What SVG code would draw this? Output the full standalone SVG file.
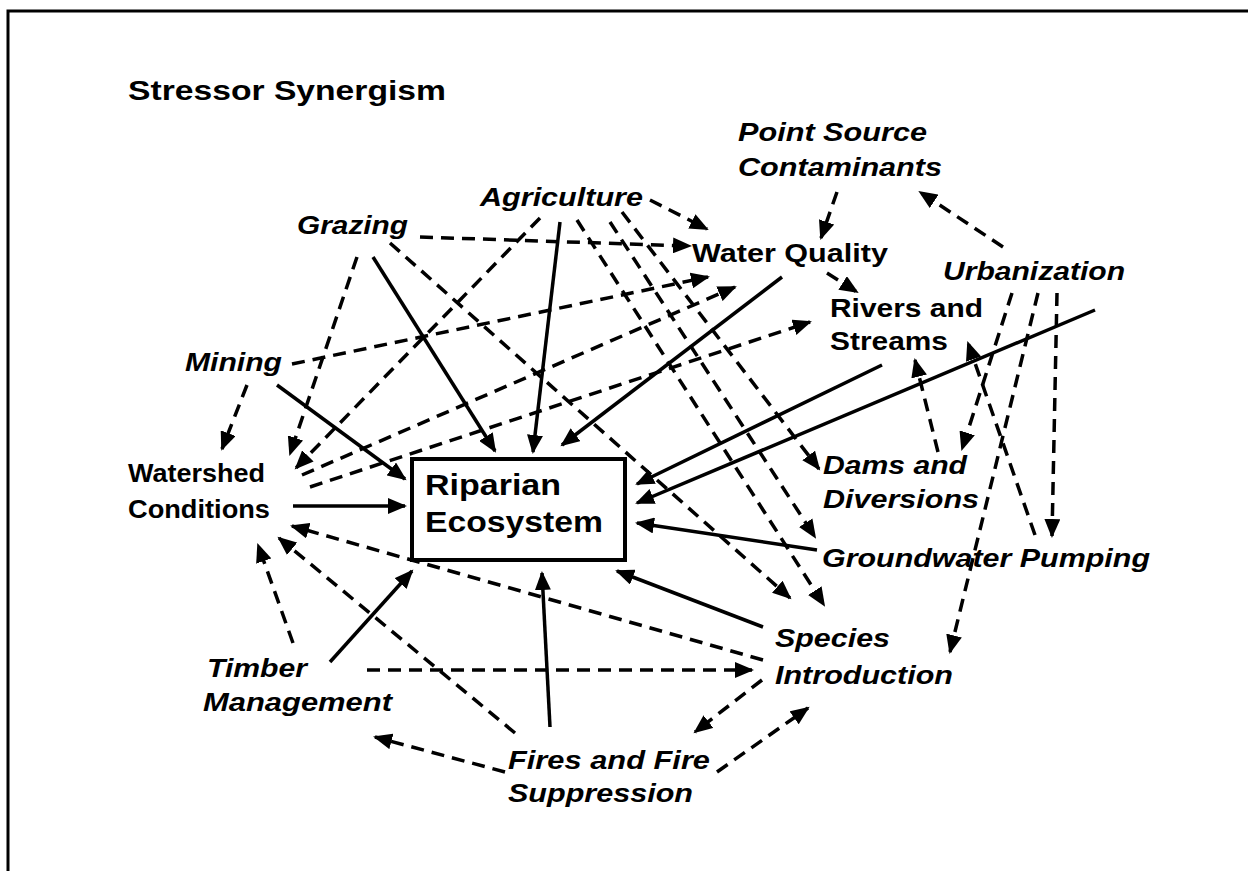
<svg xmlns="http://www.w3.org/2000/svg" width="1248" height="871" viewBox="0 0 1248 871">
<style>
text{font-family:"Liberation Sans",Arial,sans-serif;font-weight:bold;font-size:26px;fill:#000}
.it{font-style:italic}
.big{font-size:29px}
.ttl{font-size:28px}
.c{stroke:#000;stroke-width:3.5;fill:none;marker-end:url(#ah)}
.d{stroke-dasharray:13 8}
</style>
<defs>
<marker id="ah" markerUnits="userSpaceOnUse" markerWidth="20" markerHeight="16" refX="17" refY="8" orient="auto" viewBox="0 0 20 16">
<path d="M0,0 L19,8 L0,16 z" fill="#000"/>
</marker>
</defs>
<rect width="1248" height="871" fill="#fff"/>
<path d="M8,871 V11 H1248" fill="none" stroke="#000" stroke-width="3"/>
<text class="ttl" x="128" y="100" textLength="318" lengthAdjust="spacingAndGlyphs">Stressor Synergism</text>

<g id="connectors">
<line class="c" x1="373" y1="257" x2="495" y2="451"/>
<line class="c" x1="560" y1="222" x2="533" y2="452"/>
<line class="c" x1="782" y1="277" x2="562" y2="445"/>
<line class="c" x1="277" y1="385" x2="405" y2="479"/>
<line class="c" x1="293" y1="506" x2="405" y2="506"/>
<line class="c" x1="882" y1="365" x2="637" y2="484"/>
<line class="c" x1="1095" y1="310" x2="637" y2="503"/>
<line class="c" x1="817" y1="550" x2="637" y2="523"/>
<line class="c" x1="763" y1="627" x2="617" y2="571"/>
<line class="c" x1="550" y1="727" x2="542" y2="573"/>
<line class="c" x1="330" y1="662" x2="412" y2="571"/>
<line class="c d" x1="420" y1="237" x2="690" y2="246"/>
<line class="c d" x1="650" y1="200" x2="707" y2="229"/>
<line class="c d" x1="837" y1="192" x2="821" y2="238"/>
<line class="c d" x1="1003" y1="247" x2="920" y2="192"/>
<line class="c d" x1="827" y1="273" x2="857" y2="292"/>
<line class="c d" x1="292" y1="364" x2="708" y2="277"/>
<line class="c d" x1="302" y1="475" x2="735" y2="287"/>
<line class="c d" x1="310" y1="487" x2="810" y2="322"/>
<line class="c d" x1="247" y1="385" x2="222" y2="449"/>
<line class="c d" x1="357" y1="257" x2="290" y2="454"/>
<line class="c d" x1="540" y1="218" x2="296" y2="468"/>
<line class="c d" x1="390" y1="243" x2="790" y2="598"/>
<line class="c d" x1="577" y1="220" x2="824" y2="605"/>
<line class="c d" x1="610" y1="222" x2="815" y2="537"/>
<line class="c d" x1="622" y1="212" x2="819" y2="469"/>
<line class="c d" x1="1012" y1="293" x2="962" y2="449"/>
<line class="c d" x1="1038" y1="293" x2="950" y2="652"/>
<line class="c d" x1="1057" y1="293" x2="1052" y2="536"/>
<line class="c d" x1="938" y1="452" x2="915" y2="360"/>
<line class="c d" x1="1035" y1="535" x2="968" y2="343"/>
<line class="c d" x1="763" y1="660" x2="292" y2="526"/>
<line class="c d" x1="515" y1="733" x2="279" y2="538"/>
<line class="c d" x1="293" y1="643" x2="258" y2="545"/>
<line class="c d" x1="367" y1="670" x2="752" y2="670"/>
<line class="c d" x1="505" y1="772" x2="375" y2="737"/>
<line class="c d" x1="762" y1="680" x2="695" y2="732"/>
<line class="c d" x1="717" y1="772" x2="808" y2="708"/>
</g>

<g id="riparian">
<rect x="412" y="459" width="213" height="101" fill="none" stroke="#000" stroke-width="4"/>
<text class="big" x="425" y="495" textLength="136" lengthAdjust="spacingAndGlyphs">Riparian</text>
<text class="big" x="425" y="532" textLength="178" lengthAdjust="spacingAndGlyphs">Ecosystem</text>
</g>
<g id="point-source">
<text class="it" x="738" y="141" textLength="189" lengthAdjust="spacingAndGlyphs">Point Source</text>
<text class="it" x="738" y="176" textLength="204" lengthAdjust="spacingAndGlyphs">Contaminants</text>
</g>
<g id="agriculture"><text class="it" x="480" y="206" textLength="163" lengthAdjust="spacingAndGlyphs">Agriculture</text></g>
<g id="grazing"><text class="it" x="297" y="234" textLength="111" lengthAdjust="spacingAndGlyphs">Grazing</text></g>
<g id="water-quality"><text x="692" y="262" textLength="196" lengthAdjust="spacingAndGlyphs">Water Quality</text></g>
<g id="urbanization"><text class="it" x="943" y="280" textLength="182" lengthAdjust="spacingAndGlyphs">Urbanization</text></g>
<g id="rivers">
<text x="830" y="317" textLength="153" lengthAdjust="spacingAndGlyphs">Rivers and</text>
<text x="830" y="350" textLength="118" lengthAdjust="spacingAndGlyphs">Streams</text>
</g>
<g id="mining"><text class="it" x="185" y="371" textLength="97" lengthAdjust="spacingAndGlyphs">Mining</text></g>
<g id="watershed">
<text x="128" y="482" textLength="137" lengthAdjust="spacingAndGlyphs">Watershed</text>
<text x="128" y="518" textLength="142" lengthAdjust="spacingAndGlyphs">Conditions</text>
</g>
<g id="dams">
<text class="it" x="823" y="474" textLength="144" lengthAdjust="spacingAndGlyphs">Dams and</text>
<text class="it" x="823" y="508" textLength="156" lengthAdjust="spacingAndGlyphs">Diversions</text>
</g>
<g id="groundwater"><text class="it" x="822" y="567" textLength="328" lengthAdjust="spacingAndGlyphs">Groundwater Pumping</text></g>
<g id="species">
<text class="it" x="775" y="647" textLength="115" lengthAdjust="spacingAndGlyphs">Species</text>
<text class="it" x="775" y="684" textLength="178" lengthAdjust="spacingAndGlyphs">Introduction</text>
</g>
<g id="timber">
<text class="it" x="207" y="677" textLength="100" lengthAdjust="spacingAndGlyphs">Timber</text>
<text class="it" x="203" y="711" textLength="189" lengthAdjust="spacingAndGlyphs">Management</text>
</g>
<g id="fires">
<text class="it" x="508" y="769" textLength="202" lengthAdjust="spacingAndGlyphs">Fires and Fire</text>
<text class="it" x="508" y="802" textLength="185" lengthAdjust="spacingAndGlyphs">Suppression</text>
</g>
</svg>
